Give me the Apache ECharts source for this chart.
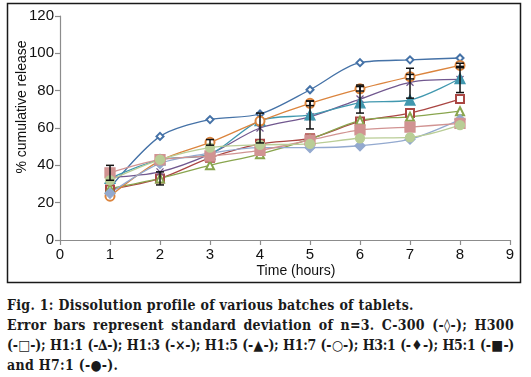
<!DOCTYPE html>
<html>
<head>
<meta charset="utf-8">
<script src="https://cdn.jsdelivr.net/npm/echarts@6/dist/echarts.min.js"></script>
<style>
  body { margin: 0; background: #fff; }
  #chart { position: absolute; left: 0; top: 0; width: 531px; height: 290px; }
  #caption {
    position: absolute; left: 7px; top: 295px; width: 507px;
    font-family: "DejaVu Serif Condensed", "DejaVu Serif", serif; font-stretch: condensed;
    font-weight: bold; font-size: 14px; letter-spacing: 0.3px; line-height: 20px; color: #1a1a1a;
  }
  #caption .j { text-align: justify; text-align-last: justify; white-space: nowrap; }
  #caption .tight { letter-spacing: -0.3px; }
</style>
</head>
<body>
<div id="chart"></div>
<div id="caption">
  <div>Fig. 1: Dissolution profile of various batches of tablets.</div>
  <div class="j">Error bars represent standard deviation of n=3. C-300 (-◊-); H300</div>
  <div class="j tight">(-□-); H1:1 (-∆-); H1:3 (-×-); H1:5 (-▲-); H1:7 (-○-); H3:1 (-♦-); H5:1 (-■-)</div>
  <div>and H7:1 (-●-).</div>
</div>
<script>
// time points (hours)
const hours = [1, 2, 3, 4, 5, 6, 7, 8];

// % cumulative release per batch
const c300 = [28, 55.5, 64.5, 67.5, 80.5, 95, 96.5, 97.5];
const h300 = [27, 33, 44, 51.5, 54.5, 63.5, 68, 75.5];
const h1_1 = [27.5, 33, 40, 46, 54, 64, 66, 69];
const h1_3 = [33.5, 36.5, 46, 60, 66, 75.5, 84.5, 86];
const h1_5 = [33, 43, 46, 64, 67, 73.5, 75, 86.5];
const h1_7 = [23.5, 42.5, 52.3, 63.7, 73.2, 81, 87.5, 93.5];
const h3_1 = [25, 41, 46.5, 49.5, 49.5, 50.5, 54, 64.5];
const h5_1 = [36, 43, 45, 48, 53.5, 59, 60.5, 62.5];
const h7_1 = [32, 43, 49.5, 51, 51.5, 54.5, 55, 61.5];

// error bars (visible ones): x, mean, sd
const errX = [1, 2, 3, 4, 5, 5, 6, 6, 7, 7, 8, 8];
const errMid = [36, 33, 52.3, 60, 67, 73.2, 75.5, 81, 84, 87.5, 86, 93.5];
const errSd = [4, 3.5, 1.5, 8, 7.5, 1.2, 7.5, 1.2, 8, 1.2, 7, 1.2];

const xTicks = [0, 1, 2, 3, 4, 5, 6, 7, 8, 9];
const yTicks = [0, 20, 40, 60, 80, 100, 120];

const xSym = 'path://M0,0L10,10M10,0L0,10';

const batches = [
  { name: 'C-300', data: c300, color: '#4572a7', symbol: 'emptyDiamond', size: 7 },
  { name: 'H300', data: h300, color: '#aa4643', symbol: 'emptyRect', size: 8 },
  { name: 'H1:1', data: h1_1, color: '#89a54e', symbol: 'emptyTriangle', size: 8 },
  { name: 'H1:3', data: h1_3, color: '#71588f', symbol: xSym, size: 7 },
  { name: 'H1:5', data: h1_5, color: '#4198af', symbol: 'triangle', size: 10 },
  { name: 'H1:7', data: h1_7, color: '#db843d', symbol: 'emptyCircle', size: 9 },
  { name: 'H3:1', data: h3_1, color: '#93a9cf', symbol: 'diamond', size: 10 },
  { name: 'H5:1', data: h5_1, color: '#d19392', symbol: 'rect', size: 10 },
  { name: 'H7:1', data: h7_1, color: '#b9cd96', symbol: 'circle', size: 9 }
];

const chart = echarts.init(document.getElementById('chart'));

const series = batches.map(function (b) {
  return {
    name: b.name,
    type: 'line',
    smooth: 0.3,
    symbol: b.symbol,
    symbolSize: b.size,
    showAllSymbol: true,
    data: hours.map(function (h, i) { return [h, b.data[i]]; }),
    lineStyle: { color: b.color, width: 1.3 },
    itemStyle: { color: b.color, borderColor: b.color, borderWidth: 1.3 },
    emphasis: { disabled: true }
  };
});

series.push({
  type: 'custom',
  z: 5,
  silent: true,
  data: errX.map(function (x, i) { return [x, errMid[i] - errSd[i], errMid[i] + errSd[i]]; }),
  renderItem: function (params, api) {
    const lo = api.coord([api.value(0), api.value(1)]);
    const hi = api.coord([api.value(0), api.value(2)]);
    const w = 4;
    const st = { stroke: '#111', lineWidth: 1.5 };
    return {
      type: 'group',
      children: [
        { type: 'line', shape: { x1: lo[0], y1: lo[1], x2: hi[0], y2: hi[1] }, style: st },
        { type: 'line', shape: { x1: lo[0] - w, y1: lo[1], x2: lo[0] + w, y2: lo[1] }, style: st },
        { type: 'line', shape: { x1: hi[0] - w, y1: hi[1], x2: hi[0] + w, y2: hi[1] }, style: st }
      ]
    };
  }
});

const axisColor = '#8c8c8c';
const labelStyle = { color: '#111', fontSize: 15, fontFamily: 'Liberation Sans' };

chart.setOption({
  animation: false,
  grid: { left: 60, right: 21, top: 16, bottom: 50 },
  xAxis: {
    type: 'value',
    min: xTicks[0],
    max: xTicks[xTicks.length - 1],
    interval: 1,
    splitLine: { show: false },
    axisLine: { lineStyle: { color: axisColor, width: 1.2 } },
    axisTick: { length: 5, lineStyle: { color: axisColor, width: 1.2 } },
    axisLabel: Object.assign({ margin: 7 }, labelStyle)
  },
  yAxis: {
    type: 'value',
    min: yTicks[0],
    max: yTicks[yTicks.length - 1],
    interval: 20,
    splitLine: { show: false },
    axisLine: { show: true, lineStyle: { color: axisColor, width: 1.2 } },
    axisTick: { show: true, length: 5, lineStyle: { color: axisColor, width: 1.2 } },
    axisLabel: Object.assign({ margin: 6 }, labelStyle)
  },
  graphic: [
    {
      type: 'rect', silent: true,
      shape: { x: 7.5, y: 3.5, width: 513, height: 279 },
      style: { fill: 'none', stroke: '#1a1a1a', lineWidth: 1.5 }
    },
    {
      type: 'text', x: 296, y: 271,
      style: { text: 'Time (hours)', fill: '#111', font: '14px "Liberation Sans"', align: 'center', verticalAlign: 'middle' }
    },
    {
      type: 'text', x: 22, y: 107, rotation: Math.PI / 2,
      style: { text: '% cumulative release', fill: '#111', font: '14px "Liberation Sans"', align: 'center', verticalAlign: 'middle' }
    }
  ],
  series: series
});
</script>
</body>
</html>
